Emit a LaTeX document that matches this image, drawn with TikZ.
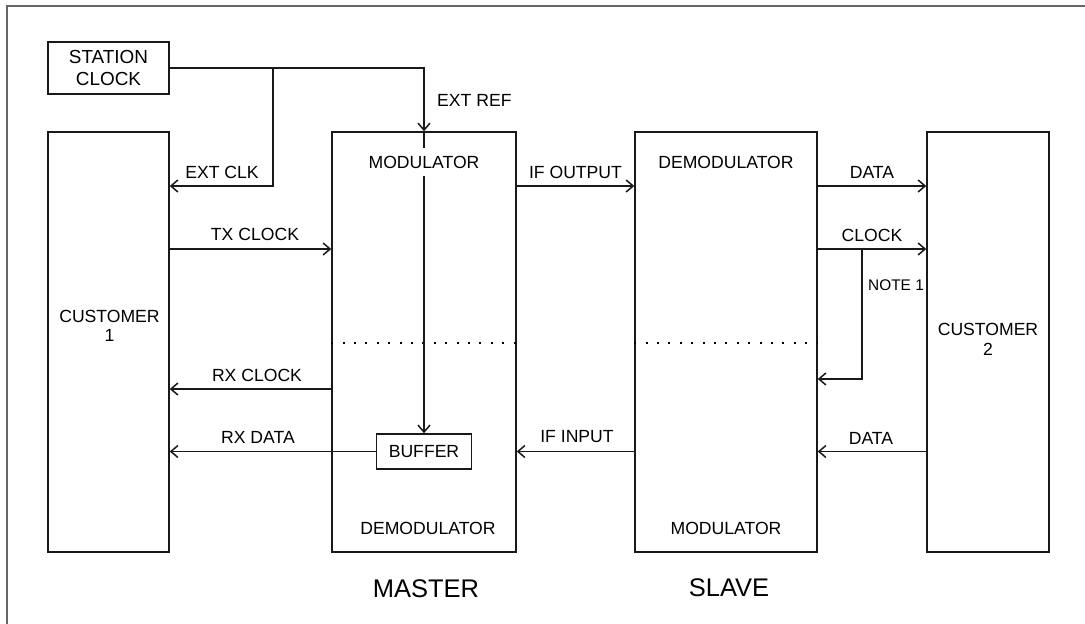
\documentclass[tikz,border=0pt]{standalone}
\usepackage{fontspec}
\setmainfont{Liberation Sans}
\usetikzlibrary{arrows.meta,positioning,calc}

\begin{document}
\begin{tikzpicture}[x=1pt,y=-1pt,
box/.style={draw=black!90,line width=1.5pt,inner sep=0pt},
txt/.style={font=\fontsize{17.6}{20}\selectfont,inner sep=0pt,align=center},
big/.style={font=\fontsize{25.5}{28}\selectfont,inner sep=0pt},
small/.style={font=\fontsize{15.4}{18}\selectfont,inner sep=0pt},
flow/.style={-{Straight Barb[length=7pt,width=12pt]},line width=1.5pt,draw=black!90},
sep/.style={dash pattern=on 2pt off 9.4pt,line width=2pt,draw=black}]
\useasboundingbox (0,0) rectangle (1085,624);
\draw[black!60,line width=1.2pt] (7,624) -- (7,6) -- (1085,6);
% blocks
\node[box,txt,font=\fontsize{18.9}{22}\selectfont,minimum width=121pt,minimum height=52pt] (station) at (108.5,68) {STATION\\CLOCK};
\node[box,minimum width=121pt,minimum height=420pt] (cust1) at (108.5,342) {};
\node[box,minimum width=184pt,minimum height=420pt] (master) at (424,342) {};
\node[box,minimum width=182pt,minimum height=420pt] (slave) at (726,342) {};
\node[box,minimum width=122pt,minimum height=420pt] (cust2) at (988,342) {};
\node[box,txt,minimum width=95pt,minimum height=35pt] (buffer) at (424,451.5) {BUFFER};
\node[txt,font=\fontsize{17.6}{19}\selectfont] (custtxt1) at (109.5,325.5) {CUSTOMER\\1};
\node[txt] (custtxt2) at (988,339.5) {CUSTOMER\\2};
\node[txt] (mdemod) at (428,528) {DEMODULATOR};
\node[txt] (sdemod) at (726,162) {DEMODULATOR};
\node[txt] (smod) at (726,528) {MODULATOR};
\node[big] (mastertxt) at (426,588.5) {MASTER};
\node[big] (slavetxt) at (729,587.5) {SLAVE};
% signal levels
\coordinate (rowext) at (0,186);
\coordinate (rowtx) at (0,249);
\coordinate (rowsep) at (0,343);
\coordinate (rowloop) at (0,379);
\coordinate (rowrx) at (0,389);
\coordinate (tap) at (273,68);
\coordinate (note) at (862,249);
% connectors
\draw[sep] (master.west |- rowsep) -- (master.east |- rowsep);
\draw[sep] (slave.west |- rowsep) -- (slave.east |- rowsep);
\draw[flow] (station.east) -| (master.north);
\draw[flow] (tap) |- (cust1.east |- rowext);
\draw[flow] (master.north) -- (buffer.north);
\node[txt,fill=white,inner ysep=8pt,inner xsep=2pt] (mmod) at (424,162) {MODULATOR};
\draw[flow] (cust1.east |- rowtx) -- (master.west |- rowtx);
\draw[flow] (master.west |- rowrx) -- (cust1.east |- rowrx);
\draw[flow] (buffer.west) -- (cust1.east |- buffer.west);
\draw[flow] (master.east |- rowext) -- (slave.west |- rowext);
\draw[flow] (slave.west |- buffer.west) -- (master.east |- buffer.west);
\draw[flow] (slave.east |- rowext) -- (cust2.west |- rowext);
\draw[flow] (slave.east |- rowtx) -- (cust2.west |- rowtx);
\draw[flow] (note) |- (slave.east |- rowloop);
\draw[flow] (cust2.west |- buffer.west) -- (slave.east |- buffer.west);
% labels
\node[txt,anchor=west] (lblref) at (437,100.5) {EXT REF};
\node[txt] (lblclk) at (222,172.5) {EXT CLK};
\node[txt] (lbltx) at (255,234) {TX CLOCK};
\node[txt] (lblrx) at (257,375) {RX CLOCK};
\node[txt] (lblrxd) at (258,437) {RX DATA};
\node[txt] (lblout) at (575.5,172.5) {IF OUTPUT};
\node[txt] (lblin) at (577,437) {IF INPUT};
\node[txt] (lbldata) at (872,172.5) {DATA};
\node[txt] (lblclock) at (872,235) {CLOCK};
\node[txt] (lbldata2) at (871,438) {DATA};
\node[small,anchor=west] (lblnote) at (868,285) {NOTE 1};
\end{tikzpicture}
\end{document}
